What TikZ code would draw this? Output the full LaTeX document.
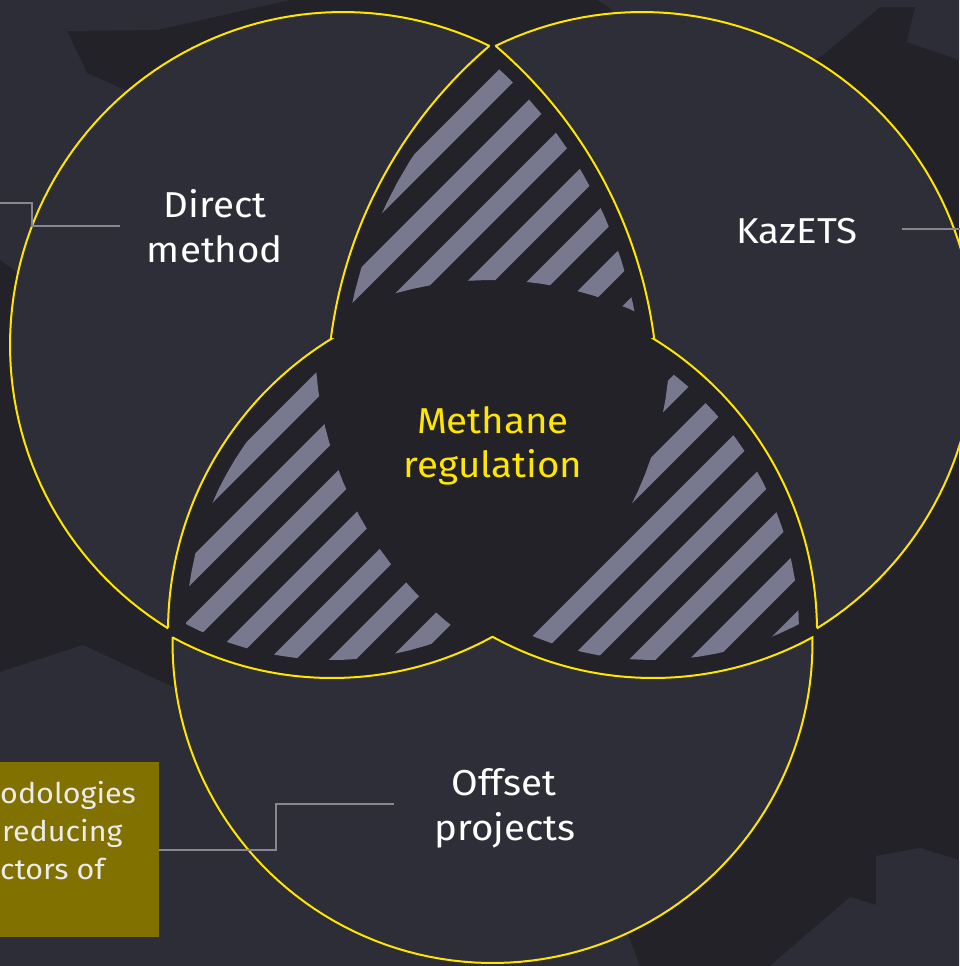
\documentclass[tikz,border=0pt]{standalone}
\usepackage{fontspec}
\setmainfont{Fira Sans}[FakeStretch=1.07]
\definecolor{bgdark}{RGB}{34,34,40}
\definecolor{bglight}{RGB}{45,45,55}
\definecolor{circfill}{RGB}{46,46,56}
\definecolor{eyyellow}{RGB}{255,230,0}
\definecolor{stripecol}{RGB}{120,120,142}
\definecolor{olivebox}{RGB}{128,113,0}
\definecolor{conncol}{RGB}{136,136,140}
\begin{document}
\begin{tikzpicture}[x=1pt,y=-1pt,
  regionshape/.style={fill=circfill,draw=eyyellow,line width=2},
  stripeline/.style={stripecol,line width=19},
  conn/.style={draw=conncol,line width=2},
  lbl/.style={anchor=base,text=white,inner sep=0,font=\fontsize{36}{45}\selectfont},
  lblY/.style={lbl,text=eyyellow},
  boxtxt/.style={anchor=base west,text=white!92!black,inner sep=0,font=\fontsize{28.5}{38}\selectfont},
  bgpoly/.style={fill=bglight}]
\useasboundingbox (0,0) rectangle (959,966);
% background
\fill[bgdark] (0,0) rectangle (959,966);
\fill[bgpoly] (0,0) -- (290,0) -- (157,30) -- (67,31) -- (87,73) -- (120,88) -- (200,120) -- (60,300) -- (17,272) -- (0,260) -- cycle;
\fill[bgpoly] (597,0) -- (959,0) -- (959,60) -- (907,42) -- (915,7) -- (880,7) -- (823,55) -- (700,120) -- (610,8) -- cycle;
\fill[bgpoly] (0,672) -- (83,645) -- (173,687) -- (300,700) -- (620,900) -- (630,940) -- (640,966) -- (0,966) -- cycle;
\fill[bgpoly] (770,966) -- (850,897) -- (876,905) -- (876,856) -- (920,848) -- (959,860) -- (959,966) -- cycle;
% three regions
\path[regionshape] plot[domain=-64:-238.17,samples=90] ({343+333*cos(\x)},{345+333*sin(\x)})
  -- plot[domain=-179.3:-121.65,samples=60] ({511+343*cos(\x)},{631+343*sin(\x)})
  -- plot[domain=-172.68:-130.6,samples=60] ({790+463*cos(\x)},{398+463*sin(\x)}) -- cycle;
\path[regionshape] plot[domain=-116:58.17,samples=90] ({642+333*cos(\x)},{345+333*sin(\x)})
  -- plot[domain=-0.7:-58.35,samples=60] ({474+343*cos(\x)},{631+343*sin(\x)})
  -- plot[domain=-7.32:-49.4,samples=60] ({195+463*cos(\x)},{398+463*sin(\x)}) -- cycle;
\path[regionshape] plot[domain=118.6:61.2,samples=60] ({332+333*cos(\x)},{345+333*sin(\x)})
  -- plot[domain=118.8:61.4,samples=60] ({653+333*cos(\x)},{345+333*sin(\x)})
  -- plot[domain=-0.9:181.1,samples=90] ({492.5+320*cos(\x)},{643+320*sin(\x)}) -- cycle;
% hatched lenses
\begin{scope}
  \clip plot[domain=0:360,samples=120] ({790+448*cos(\x)},{398+448*sin(\x)}) -- cycle;
  \clip plot[domain=0:360,samples=120] ({195+448*cos(\x)},{398+448*sin(\x)}) -- cycle;
  \clip (-100,-100) -- (-100,1100) -- (1100,1100) -- (1100,-100) -- cycle
        plot[domain=0:360,samples=120] ({490.5+348*cos(\x)},{628+348*sin(\x)}) -- cycle;
  \foreach \s in {462,522,...,1422} \draw[stripeline] (\s-1100,1100) -- (\s+100,-100);
\end{scope}
\begin{scope}
  \clip plot[domain=0:360,samples=120] ({511+325*cos(\x)},{631+325*sin(\x)}) -- cycle;
  \clip plot[domain=0:360,samples=120] ({332+315*cos(\x)},{345+315*sin(\x)}) -- cycle;
  \clip (-100,-100) -- (-100,1100) -- (1100,1100) -- (1100,-100) -- cycle
        plot[domain=0:360,samples=120] ({678+363*cos(\x)},{342+363*sin(\x)}) -- cycle;
  \foreach \s in {462,522,...,1422} \draw[stripeline] (\s-1100,1100) -- (\s+100,-100);
\end{scope}
\begin{scope}
  \clip plot[domain=0:360,samples=120] ({474+325*cos(\x)},{631+325*sin(\x)}) -- cycle;
  \clip plot[domain=0:360,samples=120] ({653+315*cos(\x)},{345+315*sin(\x)}) -- cycle;
  \clip (-100,-100) -- (-100,1100) -- (1100,1100) -- (1100,-100) -- cycle
        plot[domain=0:360,samples=120] ({307+363*cos(\x)},{342+363*sin(\x)}) -- cycle;
  \foreach \s in {462,522,...,1422} \draw[stripeline] (\s-1100,1100) -- (\s+100,-100);
\end{scope}
% labels
\node[lbl] (direct1) at (215,217) {Direct};
\node[lbl] (direct2) at (215,262) {method};
\node[lbl] (kazets) at (797,243) {KazETS};
\node[lblY] (meth1) at (493,433) {Methane};
\node[lblY] (meth2) at (493,477) {regulation};
\node[lbl] (off1) at (504,795) {Offset};
\node[lbl] (off2) at (505,840) {projects};
% text box
\node[fill=olivebox,anchor=north west,minimum width=159,minimum height=175,inner sep=0] (box) at (0,762) {};
\node[boxtxt] (bt1) at (0,803) {odologies};
\node[boxtxt] (bt2) at (2,841) {reducing};
\node[boxtxt] (bt3) at (0,879) {ctors of};
% connectors
\coordinate (c1a) at (120,226);
\coordinate (c1b) at (32,226);
\coordinate (c1c) at (32,203);
\coordinate (c1d) at (-5,203);
\draw[conn] (c1a) -- (c1b) -- (c1c) -- (c1d);
\coordinate (c2a) at (902,229);
\coordinate (c2b) at (965,229);
\draw[conn] (c2a) -- (c2b);
\coordinate (c3a) at (394,804);
\coordinate (c3b) at (276,804);
\draw[conn] (c3a) -- (c3b) |- (box.east);
\end{tikzpicture}
\end{document}
